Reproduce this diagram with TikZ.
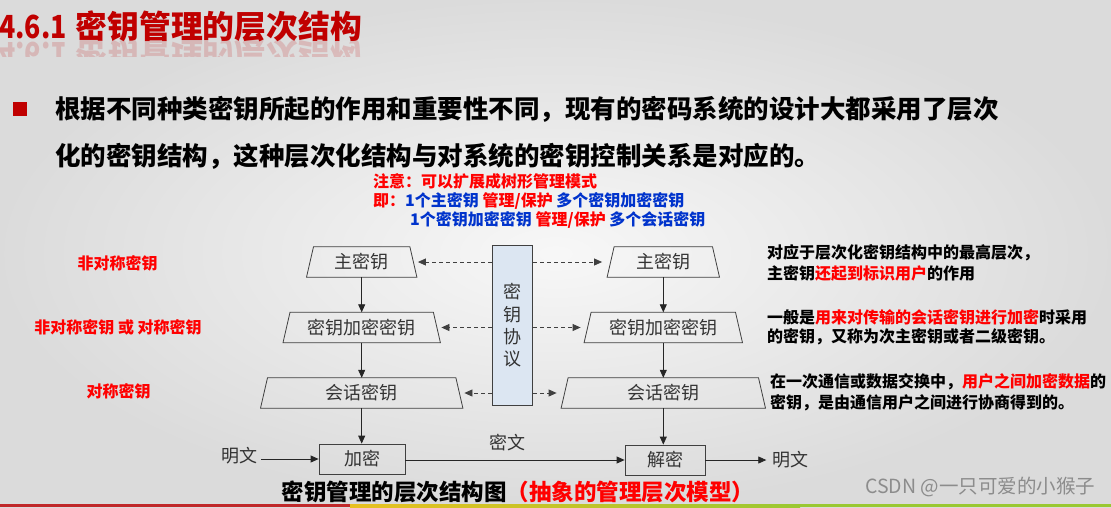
\documentclass[tikz,border=0pt]{standalone}
\usepackage{fontspec}
\setmainfont{Noto Sans CJK SC}
\usetikzlibrary{arrows.meta,calc}
\definecolor{titlered}{HTML}{C00000}
\definecolor{txtred}{HTML}{FF0000}
\definecolor{txtblue}{HTML}{0033CC}
\definecolor{boxline}{HTML}{404040}
\definecolor{boxtext}{HTML}{333333}
\definecolor{protofill}{HTML}{DCE6F2}
\definecolor{stripred}{HTML}{C0282A}
\definecolor{stripyellow}{HTML}{E8C020}
\definecolor{stripgreen}{HTML}{9AC832}
\newcommand\myfs[1]{\fontsize{#1}{#1}\selectfont}
\newcommand\trapez[1]{\draw[trapline] ($(#1.south west)+(-3.5pt,0)$) -- ($(#1.north west)+(3.5pt,0)$) -- ($(#1.north east)+(-3.5pt,0)$) -- ($(#1.south east)+(3.5pt,0)$) -- cycle;}
\newcommand\titletext{\scalebox{0.84}[1]{4.6.1}\hspace{9pt}密钥管理的层次结构}
\tikzset{
  txt/.style={inner sep=0pt},
  btxt/.style={inner sep=0pt, font=\bfseries\myfs{16}},
  trapbox/.style={minimum height=30pt, inner sep=0pt, font=\myfs{18}, text=boxtext},
  trapline/.style={draw=boxline, line width=0.8pt},
  rectbox/.style={draw=boxline, line width=0.8pt, minimum height=30pt, inner sep=0pt, font=\myfs{18}, text=boxtext},
  protobox/.style={draw=boxline, line width=0.8pt, fill=protofill, inner sep=0pt, align=center, text=boxtext, font={\fontsize{18}{22.3}\selectfont}},
  arr/.style={-{Triangle[length=8pt,width=7pt]}, draw=black!85, line width=0.8pt},
  darr/.style={arr, dash pattern=on 4pt off 3pt, draw=black!75},
}
\begin{document}
\begin{tikzpicture}[x=1pt,y=-1pt]
\useasboundingbox (0,0) rectangle (1111,507);
% background
\shade[inner color=white!97!black, outer color=black!14] (0,0) rectangle (1111,507);
% bottom strip
\fill[stripred] (0,504) rectangle (350,507);
\shade[left color=stripyellow, right color=stripgreen] (350,504) rectangle (800,507);
\fill[stripgreen] (800,504) rectangle (1111,507);
% title
\node[txt, anchor=base west, text=titlered, font=\bfseries\myfs{31.8}] (title) at (-1,38) {\titletext};
\begin{scope}
\clip (0,40) rectangle (400,56);
\node[txt, anchor=base west, text=titlered, opacity=0.16, yscale=-1, font=\bfseries\myfs{31.8}] (titlerefl) at (-1,42) {\titletext};
\end{scope}
% bullet
\fill[titlered] (12.5,101.5) rectangle (27,116);
\node[txt, anchor=west, font=\bfseries\myfs{25.5}] (b1) at (55,109) {根据不同种类密钥所起的作用和重要性不同，现有的密码系统的设计大都采用了层次};
\node[txt, anchor=west, font=\bfseries\myfs{25.5}] (b2) at (55,156) {化的密钥结构，这种层次化结构与对系统的密钥控制关系是对应的。};
% notes
\node[btxt, anchor=west, text=txtred] (n1) at (373,181) {注意：可以扩展成树形管理模式};
\node[btxt, anchor=west] (n2) at (373,201) {\textcolor{txtred}{即：}\textcolor{txtblue}{1个主密钥} \textcolor{txtred}{管理/保护} \textcolor{txtblue}{多个密钥加密密钥}};
\node[btxt, anchor=west] (n3) at (410,220) {\textcolor{txtblue}{1个密钥加密密钥} \textcolor{txtred}{管理/保护} \textcolor{txtblue}{多个会话密钥}};
% left labels
\node[btxt, text=txtred] (l1) at (117.5,263.5) {非对称密钥};
\node[btxt, text=txtred] (l2) at (118,327) {非对称密钥 或 对称密钥};
\node[btxt, text=txtred] (l3) at (118.5,391.5) {对称密钥};
% right annotations
\node[btxt, anchor=west] (a1) at (767,253) {对应于层次化密钥结构中的最高层次，};
\node[btxt, anchor=west] (a2) at (767,273) {主密钥\textcolor{txtred}{还起到标识用户}的作用};
\node[btxt, anchor=west] (c1) at (767,317.5) {一般是\textcolor{txtred}{用来对传输的会话密钥进行加密}时采用};
\node[btxt, anchor=west] (c2) at (767,337) {的密钥，又称为次主密钥或者二级密钥。};
\node[btxt, anchor=west] (d1) at (770,382) {在一次通信或数据交换中，\textcolor{txtred}{用户之间加密数据}的};
\node[btxt, anchor=west] (d2) at (770,403) {密钥，是由通信用户之间进行协商得到的。};
% key boxes left
\node[trapbox, minimum width=103pt] (lm) at (361.7,262) {主密钥};
\node[trapbox, minimum width=150pt] (lk) at (361.7,327.5) {密钥加密密钥};
\node[trapbox, minimum width=195pt] (ls) at (361.7,393) {会话密钥};
% key boxes right
\node[trapbox, minimum width=105pt] (rm) at (663.3,262) {主密钥};
\node[trapbox, minimum width=151pt] (rk) at (663.3,327.5) {密钥加密密钥};
\node[trapbox, minimum width=197pt] (rs) at (663.3,393) {会话密钥};
\trapez{lm}\trapez{lk}\trapez{ls}\trapez{rm}\trapez{rk}\trapez{rs}
% protocol box
\node[protobox, minimum width=40.4pt, minimum height=159.3pt] (proto) at (512.5,325.3) {密\\钥\\协\\议};
% dashed arrows
\draw[darr, shorten >=4.5pt] (proto.west |- lm) -- (lm.east);
\draw[darr, shorten >=4.5pt] (proto.west |- lk) -- (lk.east);
\draw[darr, shorten >=5pt] (proto.west |- ls) -- (ls.east);
\draw[darr, shorten >=8.5pt] (proto.east |- rm) -- (rm.west);
\draw[darr, shorten >=7pt] (proto.east |- rk) -- (rk.west);
\draw[darr, shorten >=8pt] (proto.east |- rs) -- (rs.west);
% vertical arrows
\draw[arr] (lm.south) -- (lk.north);
\draw[arr] (lk.south) -- (ls.north);
\draw[arr] (rm.south) -- (rk.north);
\draw[arr] (rk.south) -- (rs.north);
% bottom boxes
\node[rectbox, minimum width=86pt] (enc) at (362,459) {加密};
\node[rectbox, minimum width=80pt] (dec) at (665,460) {解密};
\node[txt, font=\myfs{18}, text=boxtext] (p1) at (239,456) {明文};
\node[txt, font=\myfs{18}, text=boxtext] (ct) at (507,443) {密文};
\node[txt, font=\myfs{18}, text=boxtext] (p2) at (790.5,460) {明文};
\draw[arr] (ls.south) -- (ls.south |- enc.north);
\draw[arr] (rs.south) -- (rs.south |- dec.north);
\draw[arr, shorten <=4pt] (p1.east |- enc.west) -- (enc.west);
\draw[arr] (enc.east |- dec.west) -- (dec.west);
\draw[arr, shorten >=6pt] (dec.east) -- (p2.west |- dec.east);
% caption
\node[txt, anchor=west, font=\bfseries\myfs{22.5}] (cap) at (281.7,491.5) {密钥管理的层次结构图\textcolor{txtred}{（抽象的管理层次模型）}};
% watermark
\node[txt, anchor=west, font=\myfs{19.5}, text=black!45] (wm) at (865,487) {CSDN @一只可爱的小猴子};
\end{tikzpicture}
\end{document}
